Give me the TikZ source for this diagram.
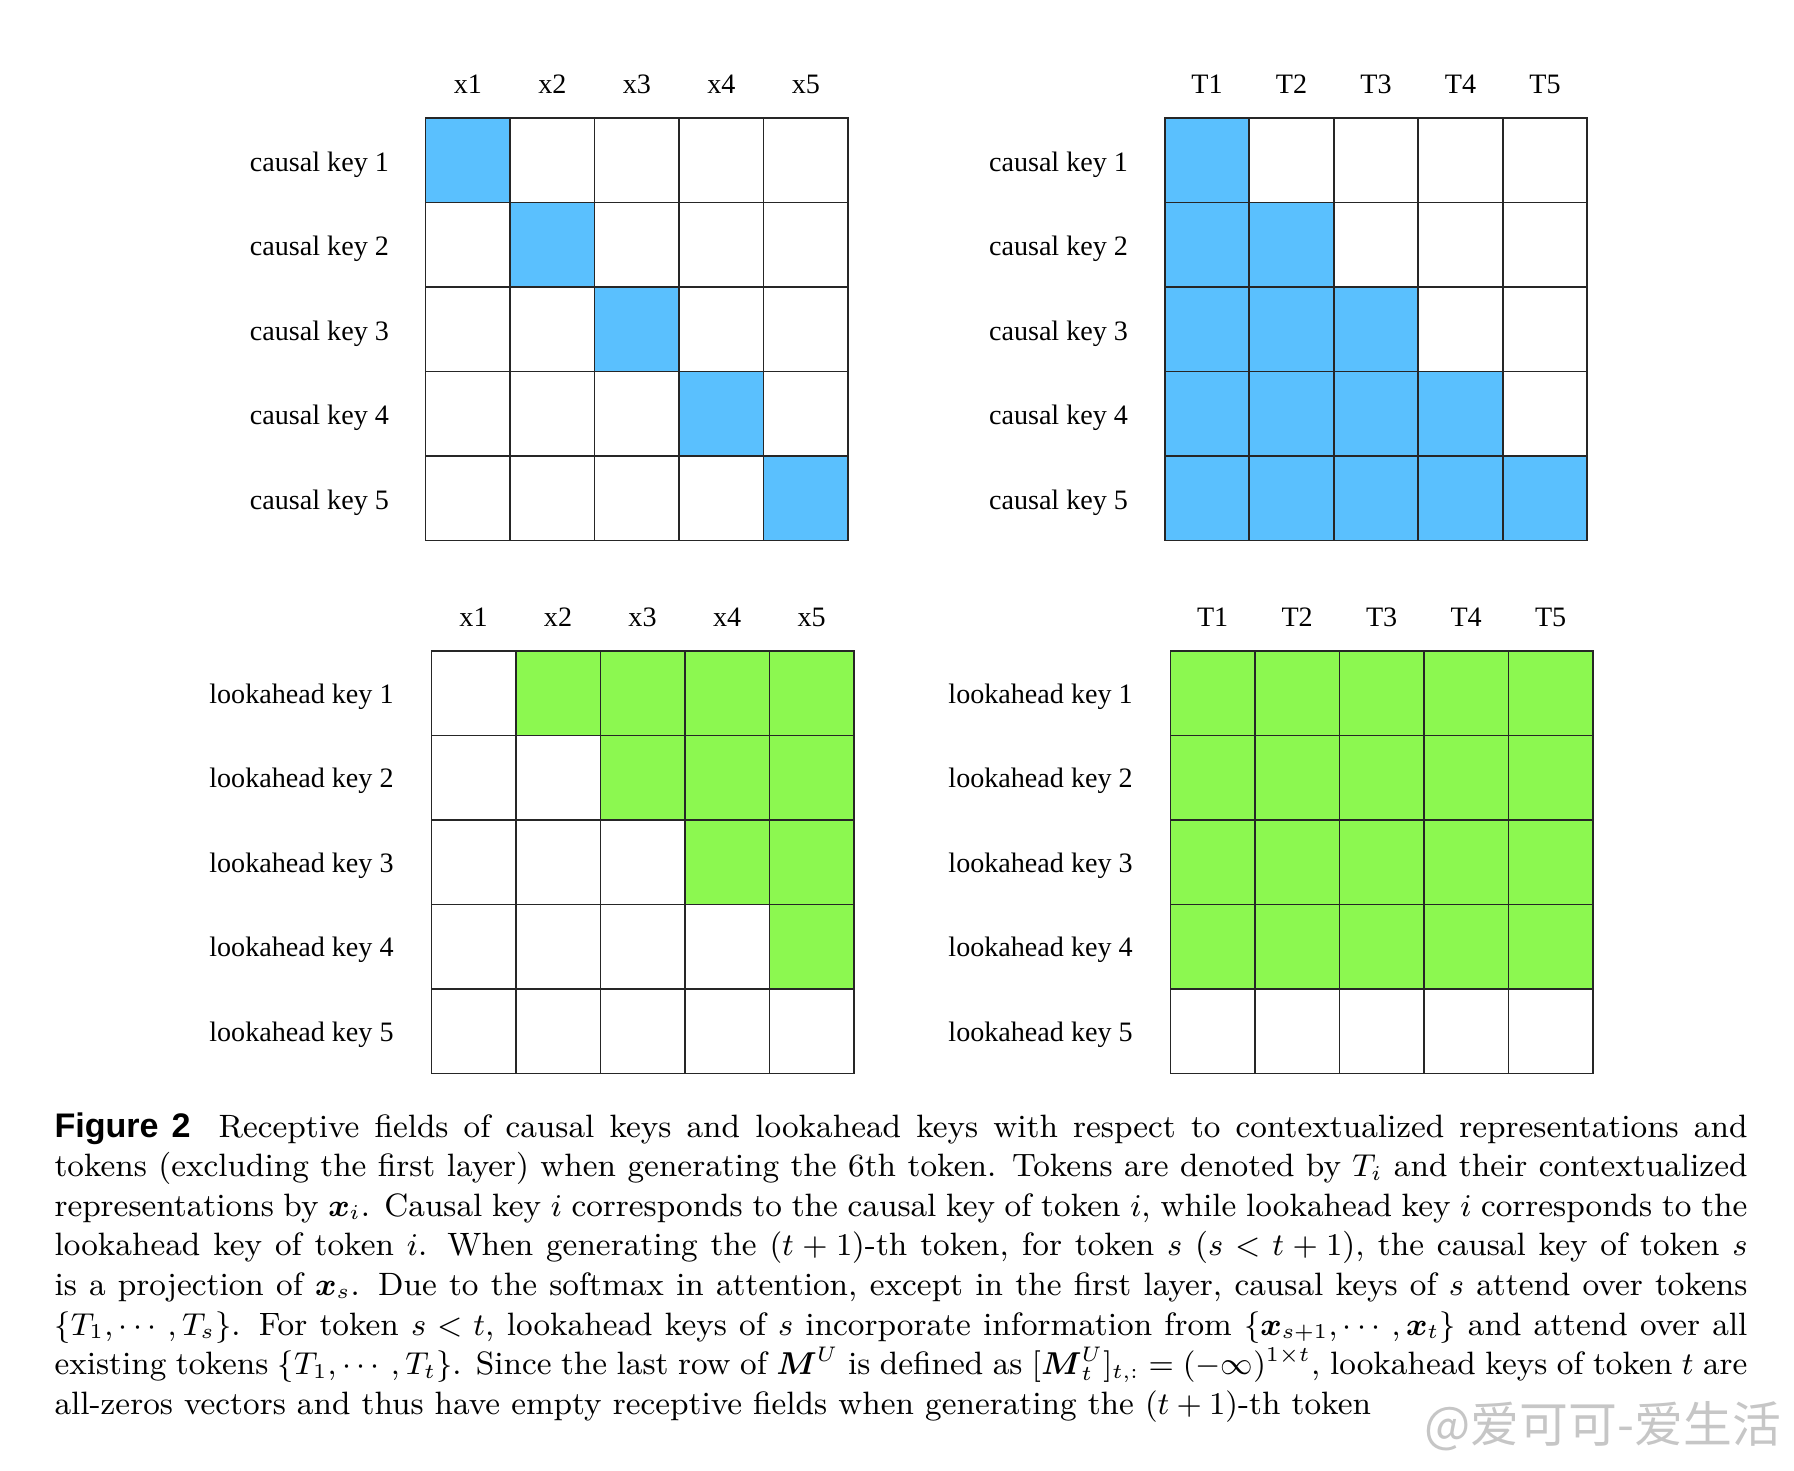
\documentclass[tikz,border=0pt]{standalone}
\usepackage{amsmath, amssymb}
\usepackage{fontspec}
\newfontfamily\gridfont{Liberation Serif}
\newfontfamily\figfont{Liberation Sans}
\newfontfamily\cjkfont{Noto Sans CJK SC}
\usetikzlibrary{positioning, calc}
\definecolor{causalblue}{RGB}{90,192,254}
\definecolor{lookgreen}{RGB}{140,248,80}

\begin{document}
\begin{tikzpicture}[x=0.1mm, y=-0.1mm,
  cell/.style={draw=black!85, line width=0.45pt, minimum size=8.45mm,
               inner sep=0pt, outer sep=0pt},
  blank/.style={fill=white},
  causal/.style={fill=causalblue},
  look/.style={fill=lookgreen},
  collab/.style={font=\gridfont\fontsize{8}{9.6}\selectfont, inner sep=0pt, anchor=base},
  rowlab/.style={font=\gridfont\fontsize{8}{9.6}\selectfont, inner sep=0pt, anchor=base east}
]
  \useasboundingbox (0,0) rectangle (1794,1470);
  \def\cw{84.5}

  % Causal keys over contextualized representations
  \foreach \r in {1,...,5} {
    \foreach \c in {1,...,5} {
      \ifnum\c=\r \def\cellfill{causal}\else \def\cellfill{blank}\fi
      \node[cell, \cellfill] (cx-\r-\c) at ({425.6+(\c-0.5)*\cw}, {117.8+(\r-0.5)*\cw}) {};
    }
  }

  % Causal keys over tokens
  \foreach \r in {1,...,5} {
    \foreach \c in {1,...,5} {
      \ifnum\c>\r \def\cellfill{blank}\else \def\cellfill{causal}\fi
      \node[cell, \cellfill] (ct-\r-\c) at ({1164.7+(\c-0.5)*\cw}, {117.8+(\r-0.5)*\cw}) {};
    }
  }

  % Lookahead keys over contextualized representations
  \foreach \r in {1,...,5} {
    \foreach \c in {1,...,5} {
      \ifnum\c>\r \def\cellfill{look}\else \def\cellfill{blank}\fi
      \node[cell, \cellfill] (lx-\r-\c) at ({431.3+(\c-0.5)*\cw}, {651+(\r-0.5)*\cw}) {};
    }
  }

  % Lookahead keys over tokens
  \foreach \r in {1,...,5} {
    \foreach \c in {1,...,5} {
      \ifnum\r<5 \def\cellfill{look}\else \def\cellfill{blank}\fi
      \node[cell, \cellfill] (lt-\r-\c) at ({1170.4+(\c-0.5)*\cw}, {651+(\r-0.5)*\cw}) {};
    }
  }

  % Column and row labels
  \foreach \i in {1,...,5} {
    \node[collab] (cxh-\i) at ($(cx-1-\i.north)+(0,-24)$) {x\i};
    \node[collab] (cth-\i) at ($(ct-1-\i.north)+(0,-24)$) {T\i};
    \node[collab] (lxh-\i) at ($(lx-1-\i.north)+(0,-25)$) {x\i};
    \node[collab] (lth-\i) at ($(lt-1-\i.north)+(0,-25)$) {T\i};
    \node[rowlab] (cxr-\i) at ($(cx-\i-1.west)+(-36,11)$) {causal key \i};
    \node[rowlab] (ctr-\i) at ($(ct-\i-1.west)+(-36,11)$) {causal key \i};
    \node[rowlab] (lxr-\i) at ($(lx-\i-1.west)+(-37,10)$) {lookahead key \i};
    \node[rowlab] (ltr-\i) at ($(lt-\i-1.west)+(-37,10)$) {lookahead key \i};
  }

  % Caption
  \node[anchor=base west, inner sep=0pt, font=\fontsize{9.2}{11.27}\selectfont] (caption)
    at (53.8, 1137) {\parbox[t]{169.3mm}{%
    {\figfont\bfseries\fontsize{9.7}{11.27}\selectfont Figure 2}\hspace{8pt}Receptive fields of causal keys and lookahead keys with respect to contextualized representations and\linebreak
    tokens (excluding the first layer) when generating the 6th token. Tokens are denoted by $T_i$ and their contextualized\linebreak
    representations by $\boldsymbol{x}_i$. Causal key $i$ corresponds to the causal key of token $i$, while lookahead key $i$ corresponds to the\linebreak
    lookahead key of token $i$. When generating the $(t+1)$-th token, for token $s$ ($s<t+1$), the causal key of token $s$\linebreak
    is a projection of $\boldsymbol{x}_s$. Due to the softmax in attention, except in the first layer, causal keys of $s$ attend over tokens\linebreak
    $\{T_1,\cdots,T_s\}$. For token $s<t$, lookahead keys of $s$ incorporate information from $\{\boldsymbol{x}_{s+1},\cdots,\boldsymbol{x}_t\}$ and attend over all\linebreak
    existing tokens $\{T_1,\cdots,T_t\}$. Since the last row of $\boldsymbol{M}^U$ is defined as $[\boldsymbol{M}^U_t]_{t,:}=(-\infty)^{1\times t}$, lookahead keys of token $t$ are\linebreak
    all-zeros vectors and thus have empty receptive fields when generating the $(t+1)$-th token}};

  % Watermark
  \node[font=\cjkfont\fontsize{13.9}{14}\selectfont, text=gray!45, anchor=west, inner sep=0pt]
    (mark) at (1424, 1426) {@爱可可-爱生活};
\end{tikzpicture}
\end{document}
